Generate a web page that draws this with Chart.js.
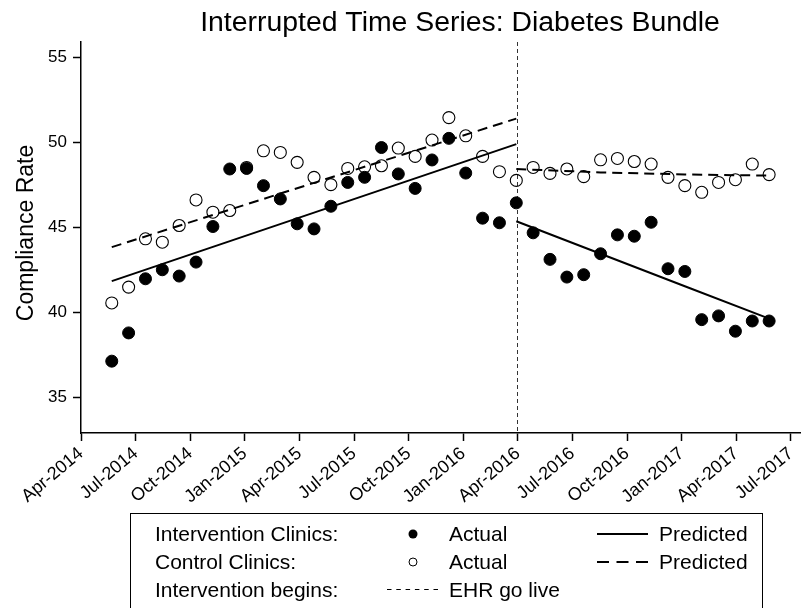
<!DOCTYPE html>
<html>
<head>
<meta charset="utf-8">
<title>Interrupted Time Series: Diabetes Bundle</title>
<script src="https://cdn.jsdelivr.net/npm/chart.js@4.4.1/dist/chart.umd.min.js"></script>
<style>
  html, body { margin: 0; padding: 0; background: #fff; }
  canvas { display: block; }
</style>
</head>
<body>
<canvas id="itsChart" width="803" height="608"></canvas>
<script>
// x axis is in months counted from Apr-2014
const tickMonths = [0, 3, 6, 9, 12, 15, 18, 21, 24, 27, 30, 33, 36, 39]
const tickLabels = ['Apr-2014', 'Jul-2014', 'Oct-2014', 'Jan-2015', 'Apr-2015', 'Jul-2015', 'Oct-2015',
  'Jan-2016', 'Apr-2016', 'Jul-2016', 'Oct-2016', 'Jan-2017', 'Apr-2017', 'Jul-2017']
const yTicks = [35, 40, 45, 50, 55]

// 40 four-week reporting periods
const firstPeriodMonth = 1.69
const periodLength = 0.926
const ehrGoLiveMonth = 24

const interventionActual = [37.15, 38.81, 41.99, 42.52, 42.15, 42.97, 45.06, 48.44, 48.47, 47.46,
  46.68, 45.22, 44.92, 46.25, 47.65, 47.95, 49.70, 48.15, 47.30, 48.97,
  50.24, 48.20, 45.55, 45.28, 46.45, 44.69, 43.13, 42.09, 42.23, 43.46,
  44.57, 44.49, 45.31, 42.58, 42.42, 39.59, 39.81, 38.91, 39.51, 39.51]
const controlActual = [40.57, 41.50, 44.34, 44.14, 45.12, 46.62, 45.90, 46.00, 48.53, 49.51,
  49.41, 48.83, 47.95, 47.52, 48.47, 48.57, 48.63, 49.67, 49.18, 50.14,
  51.46, 50.39, 49.18, 48.28, 47.77, 48.53, 48.18, 48.44, 47.99, 48.98,
  49.06, 48.88, 48.73, 47.95, 47.46, 47.07, 47.65, 47.81, 48.73, 48.11]

// predicted (fitted) values, read at a few periods
const prePeriods = [0, 24]
const interventionPredPre = [41.85, 49.90]
const controlPredPre = [43.85, 51.40]
const postPeriods = [24, 29, 34, 39]
const interventionPredPost = [45.37, 43.46, 41.55, 39.65]
const controlPredPost = [48.44, 48.24, 48.12, 48.05]

const FONT = "'Liberation Sans', Arial, sans-serif"
const periodX = k => firstPeriodMonth + k * periodLength
const toPoints = (periods, values) => values.map((v, i) => ({ x: periodX(periods[i]), y: v }))
const allPeriods = interventionActual.map((_, i) => i)

const lineStyle = {
  showLine: true,
  pointRadius: 0,
  borderColor: '#000',
  borderWidth: 2,
  fill: false,
  order: 0
}

const datasets = [
  {
    label: 'Intervention Clinics: Actual',
    data: toPoints(allPeriods, interventionActual),
    pointRadius: 6,
    pointBackgroundColor: '#000',
    pointBorderColor: '#000',
    pointBorderWidth: 1,
    order: 2
  },
  {
    label: 'Control Clinics: Actual',
    data: toPoints(allPeriods, controlActual),
    pointRadius: 6,
    pointBackgroundColor: 'rgba(255,255,255,0)',
    pointBorderColor: '#000',
    pointBorderWidth: 1.1,
    order: 1
  },
  { label: 'Intervention Predicted (pre)', data: toPoints(prePeriods, interventionPredPre), ...lineStyle },
  { label: 'Intervention Predicted (post)', data: toPoints(postPeriods, interventionPredPost), ...lineStyle },
  { label: 'Control Predicted (pre)', data: toPoints(prePeriods, controlPredPre), ...lineStyle, borderDash: [10, 6] },
  { label: 'Control Predicted (post)', data: toPoints(postPeriods, controlPredPost), ...lineStyle, borderDash: [10, 6] }
]

// title, axis title, EHR line and the boxed key
const decorations = {
  id: 'decorations',
  beforeDatasetsDraw(chart) {
    const { ctx, chartArea, scales } = chart
    const x = Math.round(scales.x.getPixelForValue(ehrGoLiveMonth)) - 0.5
    ctx.save()
    ctx.strokeStyle = '#333'
    ctx.lineWidth = 1
    ctx.setLineDash([4, 3])
    ctx.beginPath()
    ctx.moveTo(x, chartArea.top)
    ctx.lineTo(x, chartArea.bottom)
    ctx.stroke()
    ctx.restore()
  },
  afterDraw(chart) {
    const { ctx } = chart
    ctx.save()
    ctx.fillStyle = '#000'
    ctx.textBaseline = 'alphabetic'

    ctx.font = '28.4px ' + FONT
    ctx.textAlign = 'center'
    ctx.fillText('Interrupted Time Series: Diabetes Bundle', 460, 31)

    ctx.save()
    ctx.translate(33, 233)
    ctx.rotate(-Math.PI / 2)
    ctx.font = '23px ' + FONT
    ctx.fillText('Compliance Rate', 0, 0)
    ctx.restore()

    // key box
    ctx.strokeStyle = '#000'
    ctx.lineWidth = 1
    ctx.strokeRect(130.5, 513.5, 632, 110)

    ctx.font = '21px ' + FONT
    ctx.textAlign = 'left'
    const rows = [541, 569, 597]
    ctx.fillText('Intervention Clinics:', 155, rows[0])
    ctx.fillText('Control Clinics:', 155, rows[1])
    ctx.fillText('Intervention begins:', 155, rows[2])
    ctx.fillText('Actual', 449, rows[0])
    ctx.fillText('Actual', 449, rows[1])
    ctx.fillText('EHR go live', 449, rows[2])
    ctx.fillText('Predicted', 659, rows[0])
    ctx.fillText('Predicted', 659, rows[1])

    ctx.beginPath()
    ctx.arc(413, rows[0] - 7, 4.5, 0, Math.PI * 2)
    ctx.fill()
    ctx.beginPath()
    ctx.lineWidth = 1
    ctx.arc(413, rows[1] - 7, 4, 0, Math.PI * 2)
    ctx.stroke()

    ctx.lineWidth = 2
    ctx.beginPath()
    ctx.moveTo(597, rows[0] - 7)
    ctx.lineTo(648, rows[0] - 7)
    ctx.stroke()
    ctx.setLineDash([12, 7.5])
    ctx.beginPath()
    ctx.moveTo(597, rows[1] - 7)
    ctx.lineTo(648, rows[1] - 7)
    ctx.stroke()
    ctx.lineWidth = 1
    ctx.setLineDash([4.5, 4.8])
    ctx.beginPath()
    ctx.moveTo(387, rows[2] - 7.5)
    ctx.lineTo(438, rows[2] - 7.5)
    ctx.stroke()
    ctx.restore()
  }
}

const canvas = document.getElementById('itsChart')
const chart = new Chart(canvas.getContext('2d'), {
  type: 'scatter',
  data: { datasets },
  options: {
    responsive: false,
    animation: false,
    devicePixelRatio: 1,
    layout: { autoPadding: false, padding: { top: 42, right: 3, left: 0, bottom: 0 } },
    plugins: {
      legend: { display: false },
      tooltip: { enabled: false },
      title: { display: false }
    },
    scales: {
      x: {
        type: 'linear',
        min: 0,
        max: 39.5,
        afterBuildTicks: scale => { scale.ticks = tickMonths.map(v => ({ value: v })) },
        afterFit: scale => {
          scale.height = 175
          scale.paddingLeft = 0
          scale.paddingRight = 0
        },
        ticks: {
          callback: (value, index) => tickLabels[index],
          autoSkip: false,
          minRotation: 40,
          maxRotation: 40,
          padding: 2,
          color: '#000',
          font: { family: FONT, size: 18 }
        },
        grid: { drawOnChartArea: false, drawTicks: true, tickLength: 8, tickColor: '#000', tickWidth: 1.5 },
        border: { display: true, color: '#000', width: 1.5 }
      },
      y: {
        type: 'linear',
        min: 32.93,
        max: 55.9,
        afterBuildTicks: scale => { scale.ticks = yTicks.map(v => ({ value: v })) },
        afterFit: scale => {
          scale.width = 81
          scale.paddingTop = 0
          scale.paddingBottom = 0
        },
        ticks: {
          padding: 6,
          color: '#000',
          font: { family: FONT, size: 17 }
        },
        grid: { drawOnChartArea: false, drawTicks: true, tickLength: 8, tickColor: '#000', tickWidth: 1.5 },
        border: { display: true, color: '#000', width: 1.5 }
      }
    }
  },
  plugins: [decorations]
})
</script>
</body>
</html>
